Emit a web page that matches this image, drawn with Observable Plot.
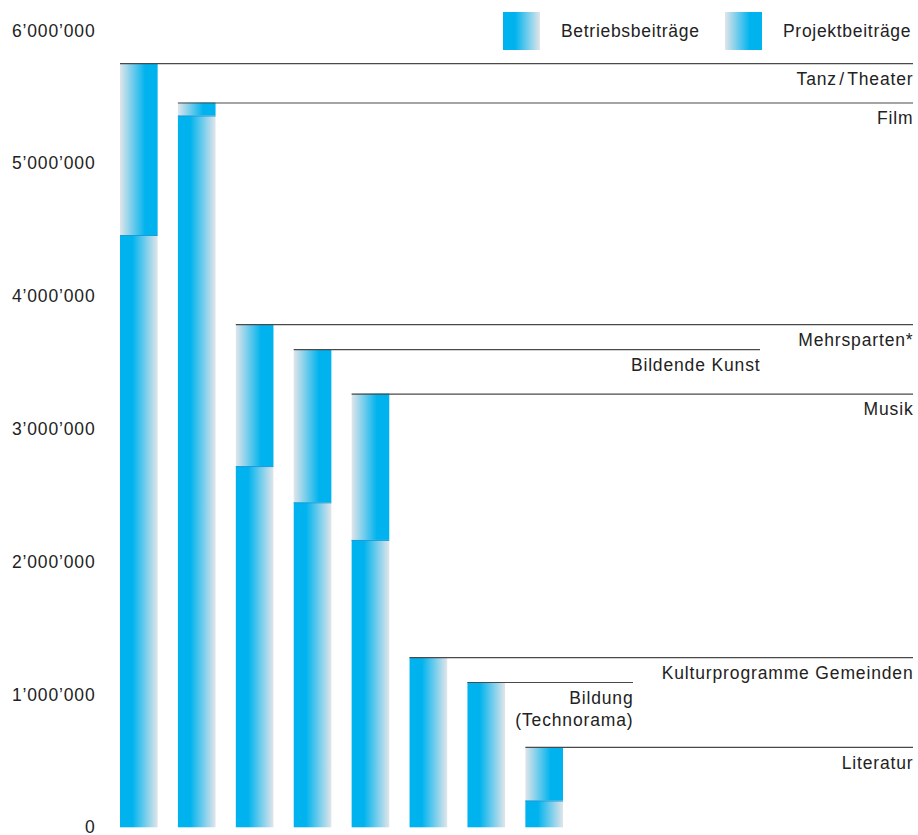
<!DOCTYPE html>
<html>
<head>
<meta charset="utf-8">
<script src="https://cdn.jsdelivr.net/npm/d3@7"></script>
<script src="https://cdn.jsdelivr.net/npm/@observablehq/plot@0.6"></script>
<style>
  body { margin: 0; background: #fff; }
  #wrap { position: relative; width: 918px; height: 835px; overflow: hidden;
          font-family: "Liberation Sans", Arial, Helvetica, sans-serif; color: #222; }
  .sw { position: absolute; top: 12px; width: 37px; height: 38px; }
  .lt { position: absolute; top: 31px; transform: translateY(-50%); font-size: 17.5px; letter-spacing: 0.7px; white-space: nowrap; }
</style>
</head>
<body>
<div id="wrap"></div>
<script>
// ---- data ----
const categories = ["Tanz\u200A/\u200ATheater", "Film", "Mehrsparten*", "Bildende Kunst", "Musik",
                    "Kulturprogramme Gemeinden", "Bildung\n(Technorama)", "Literatur"];
const betrieb = [4460000, 5360000, 2720000, 2447000, 2164000, 1282000, 1094000, 202000];
const projekt = [1295000, 98000, 1069000, 1153000, 1102000, 0, 0, 403000];
const seriesNames = ["Betriebsbeiträge", "Projektbeiträge"];
const yTicks = [0, 1000000, 2000000, 3000000, 4000000, 5000000, 6000000];

// ---- styles / layout ----
const CYAN = "#00b3ee", LIGHT = "#e1e5ea";
const FONT = '"Liberation Sans", Arial, Helvetica, sans-serif';
const W = 918, H = 835, ML = 100, MR = 5;
// how far short of the right edge some reference lines end (layout, not data)
const lineShort = {"Bildende Kunst": 153, "Bildung\n(Technorama)": 280};

const rows = categories.map((c, i) => ({cat: c, betrieb: betrieb[i], projekt: projekt[i], total: betrieb[i] + projekt[i]}));
const fmt = v => d3.format(",")(v).replace(/,/g, "’");

const xOpts = {type: "band", domain: categories, range: [120, 563], paddingInner: 0.35, paddingOuter: 0, align: 0, round: false};
const xs = Plot.scale({x: xOpts});
const lastCat = categories[categories.length - 1];
const extendRight = (W - MR) - (xs.apply(lastCat) + xs.bandwidth);

const marks = [
  Plot.axisY({ticks: yTicks, tickFormat: fmt, tickSize: 0, tickPadding: 5, label: null, fontSize: 17.5}),
  Plot.barY(rows, {x: "cat", y1: 0, y2: "betrieb", fill: "url(#gradB)"}),
  Plot.barY(rows.filter(d => d.projekt > 0), {x: "cat", y1: "betrieb", y2: "total", fill: "url(#gradP)"}),
  Plot.ruleY(rows.filter(d => d.projekt > 0), {x1: "cat", x2: "cat", y: "betrieb", stroke: "#1b9bd6", strokeWidth: 1})
];
for (const r of rows) {
  const inset = lineShort[r.cat] || 0;
  marks.push(Plot.ruleY([r], {x1: "cat", x2: () => lastCat, y: "total", stroke: "#4a4a4a", strokeWidth: 1.2,
    insetRight: inset - extendRight}));
  marks.push(Plot.text([r], {y: "total", text: "cat", frameAnchor: "right", textAnchor: "end",
    lineAnchor: "top", dy: 6, dx: -inset, lineHeight: 1.24, fontSize: 17.5, fill: "#222"}));
}

const plot = Plot.plot({
  width: W,
  height: H,
  marginLeft: ML,
  marginRight: MR,
  marginTop: 30.5,
  marginBottom: 7.7,
  style: {fontFamily: FONT, color: "#222", background: "transparent", letterSpacing: "0.85px", overflow: "visible"},
  x: {...xOpts, axis: null},
  y: {domain: [0, 6000000], axis: null},
  marks
});

// gradients
const defs = d3.select(plot).insert("defs", ":first-child");
const gB = defs.append("linearGradient").attr("id", "gradB").attr("x1", 0).attr("x2", 1).attr("y1", 0).attr("y2", 0);
gB.append("stop").attr("offset", "0%").attr("stop-color", CYAN);
gB.append("stop").attr("offset", "33%").attr("stop-color", CYAN);
gB.append("stop").attr("offset", "100%").attr("stop-color", LIGHT);
const gP = defs.append("linearGradient").attr("id", "gradP").attr("x1", 0).attr("x2", 1).attr("y1", 0).attr("y2", 0);
gP.append("stop").attr("offset", "0%").attr("stop-color", LIGHT);
gP.append("stop").attr("offset", "67%").attr("stop-color", CYAN);
gP.append("stop").attr("offset", "100%").attr("stop-color", CYAN);

const wrap = document.getElementById("wrap");
wrap.appendChild(plot);

// legend (overlaid at top)
const legendPos = [{sw: 503, tx: 561, grad: `linear-gradient(to right, ${CYAN} 0%, ${CYAN} 33%, ${LIGHT} 100%)`},
                   {sw: 725, tx: 783, grad: `linear-gradient(to right, ${LIGHT} 0%, ${CYAN} 67%, ${CYAN} 100%)`}];
seriesNames.forEach((name, i) => {
  const s = document.createElement("div");
  s.className = "sw"; s.style.left = legendPos[i].sw + "px"; s.style.background = legendPos[i].grad;
  const t = document.createElement("div");
  t.className = "lt"; t.style.left = legendPos[i].tx + "px"; t.textContent = name;
  wrap.appendChild(s); wrap.appendChild(t);
});
</script>
</body>
</html>
